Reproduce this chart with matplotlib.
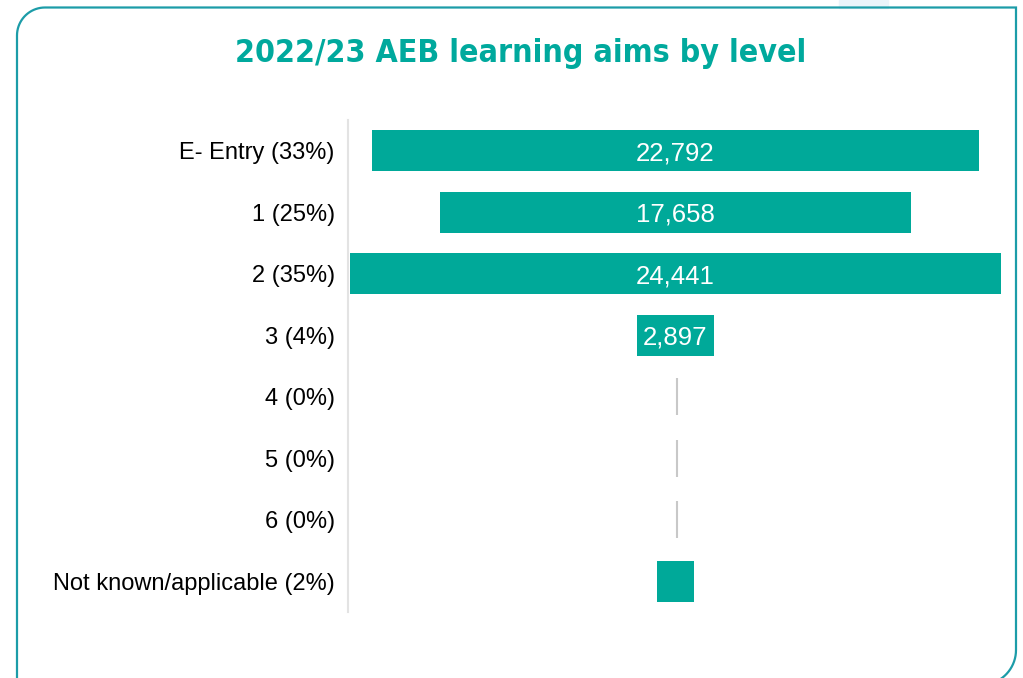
import numpy as np
import matplotlib.pyplot as plt
from matplotlib.path import Path
from matplotlib.patches import PathPatch, Rectangle
from matplotlib.transforms import Affine2D

# data
levels = ["E- Entry (33%)", "1 (25%)", "2 (35%)", "3 (4%)",
          "4 (0%)", "5 (0%)", "6 (0%)", "Not known/applicable (2%)"]
aims = np.array([22792, 17658, 24441, 2897, 0, 0, 0, 1389])
show_value = [True, True, True, True, False, False, False, False]

bar_col = "#00a999"
title_col = "#00a99d"
frame_col = "#1c9ca8"

W, H = 1023, 678
fig = plt.figure(figsize=(W / 100, H / 100), dpi=100)
fig.patch.set_facecolor("white")

# frame with rounded top-left / bottom-right corners (pixel coords, y down)
pts = []
r1, c1 = 28, (45, 35.5)
pts.append((17, 700))
for a in np.linspace(np.pi, np.pi * 1.5, 20):
    pts.append((c1[0] + r1 * np.cos(a), c1[1] + r1 * np.sin(a)))
pts.append((1016, 7.5))
r2, c2 = 35, (981, 650)
for a in np.linspace(0, np.pi / 2, 20):
    pts.append((c2[0] + r2 * np.cos(a), c2[1] + r2 * np.sin(a)))
pts = np.array(pts)
pts[:, 1] = H - pts[:, 1]
to_fig = Affine2D().scale(1 / W, 1 / H) + fig.transFigure
fig.patches.append(PathPatch(Path(pts), fill=False, edgecolor=frame_col,
                             linewidth=1.6, transform=to_fig))
fig.patches.append(Rectangle((839, H - 8), 49, 8, color="#eaf4fa",
                             transform=to_fig, zorder=0))

fig.text(521 / W, 1 - 62 / H, "2022/23 AEB learning aims by level",
         ha="center", va="baseline", color=title_col, fontsize=23,
         fontweight="bold", fontstretch="condensed", family="DejaVu Sans")

ax = fig.add_axes([348 / W, 1 - 612 / H, 655 / W, 492 / H])
y = np.arange(len(levels))
lim = 12300

ax.barh(y, aims, left=-aims / 2, height=0.667, color=bar_col, zorder=3)
for i in range(len(levels)):
    if aims[i] == 0:
        ax.vlines(60, i - 0.3, i + 0.3, color="#c8c8c8", linewidth=1.5)
    if show_value[i]:
        ax.text(0, i, f"{aims[i]:,}", ha="center", va="center_baseline",
                color="white", fontsize=18.5, family="Liberation Sans", zorder=4)

ax.set_xlim(-lim, lim)
ax.set_ylim(len(levels) - 0.5, -0.5)
ax.set_yticks(y)
ax.set_yticklabels(levels, fontsize=17, family="Liberation Sans")
ax.tick_params(axis="y", length=0, pad=9.5)
ax.set_xticks([])
for s in ["top", "right", "bottom"]:
    ax.spines[s].set_visible(False)
ax.spines["left"].set_color("#e3e3e3")
ax.spines["left"].set_linewidth(1.5)

fig.savefig("out.png", dpi=100)
